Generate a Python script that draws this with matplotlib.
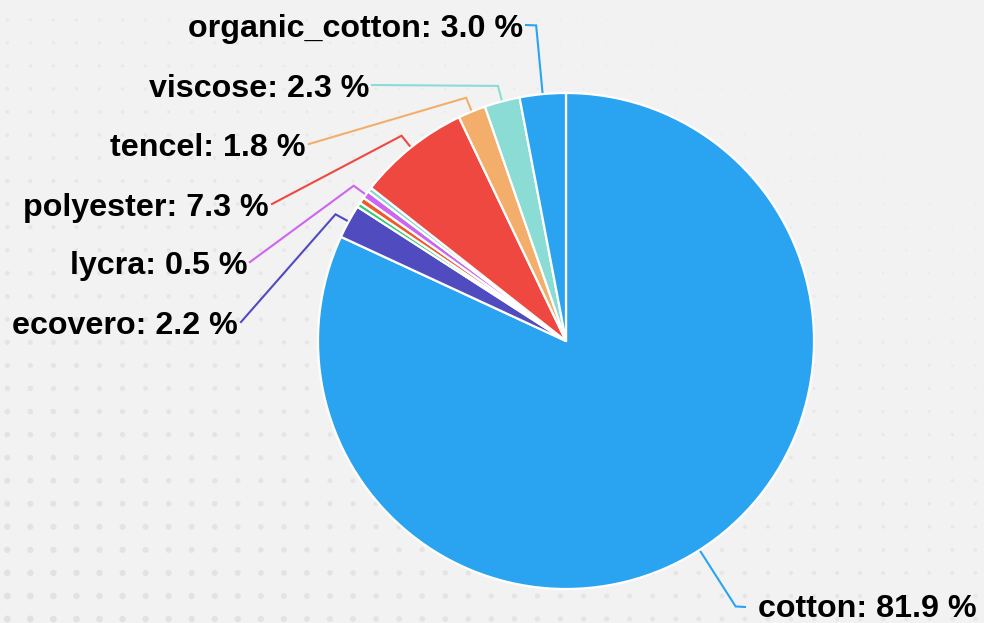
import numpy as np
import matplotlib.pyplot as plt

# Fibre composition (%), clockwise from 12 o'clock
fibres = ['cotton', 'ecovero', None, None, 'lycra', None,
          'polyester', 'tencel', 'viscose', 'organic_cotton']
shares = [81.9, 2.2, 0.3, 0.4, 0.5, 0.3, 7.3, 1.8, 2.3, 3.0]
colours = ['#2AA4F0', '#504BBE', '#2ECC71', '#F05A28', '#CC66F0',
           '#7FDCD2', '#EF4841', '#F2AE6A', '#8CDCD6', '#2AA4F0']

# label layout: line end (pixels, y down) and knee radius
label_end = {'cotton': (745, 607), 'ecovero': (241, 322), 'lycra': (250, 262),
             'polyester': (272, 204), 'tencel': (309, 144),
             'viscose': (372, 85), 'organic_cotton': (526, 25)}
knee_r = {'cotton': 315, 'ecovero': 263, 'lycra': 263, 'polyester': 263,
          'tencel': 263, 'viscose': 264, 'organic_cotton': 317}

W, H = 984, 623
cx, cy, R = 566, H - 341, 248

fig = plt.figure(figsize=(W / 100, H / 100), dpi=100)
fig.patch.set_facecolor('#F2F2F2')
ax = fig.add_axes([0, 0, 1, 1])
ax.set_facecolor('#F2F2F2')

# dotted background, bigger/darker toward bottom-left
gx, gy = np.meshgrid(7.3 + 23.05 * np.arange(43), 19.7 + 23.05 * np.arange(27))
t = np.clip(0.2 + 0.6 * gy / H + 0.45 * (1 - gx / W) - 0.3, 0, 1)
ax.scatter(gx.ravel(), H - gy.ravel(), s=(1.0 + 6.0 * t.ravel()) ** 2 * 0.55,
           c='#E1E1E1', alpha=(0.3 + 0.7 * t.ravel()), lw=0, zorder=0)

wedges, _ = ax.pie(shares, colors=colours, startangle=90, counterclock=False,
                   center=(cx, cy), radius=R,
                   wedgeprops=dict(edgecolor='white', linewidth=1.6,
                                   joinstyle='round'))
for w in wedges:
    w.set_zorder(2)

for w, name, col in zip(wedges, fibres, colours):
    if name is None:
        continue
    mid = np.deg2rad((w.theta1 + w.theta2) / 2)
    d = np.array([np.cos(mid), np.sin(mid)])
    p0 = np.array([cx, cy]) + (R - 2) * d
    p1 = np.array([cx, cy]) + knee_r[name] * d
    ex, ey = label_end[name]
    p2 = np.array([ex, H - ey])
    ax.plot([p0[0], p1[0], p2[0]], [p0[1], p1[1], p2[1]], color=col,
            lw=1.5, solid_joinstyle='miter', zorder=1)
    val = shares[fibres.index(name)]
    txt = f'{name}: {val:.1f} %'
    if p2[0] > cx:
        ax.text(ex + 13, H - ey - 10, txt, ha='left', va='baseline',
                fontsize=23.2, fontweight='bold', family='Liberation Sans')
    else:
        ax.text(ex - 3, H - ey - 12, txt, ha='right', va='baseline',
                fontsize=23.2, fontweight='bold', family='Liberation Sans')

ax.set_xlim(0, W)
ax.set_ylim(0, H)
ax.set_aspect('equal')
ax.axis('off')

fig.savefig('out.png', dpi=100, facecolor=fig.get_facecolor())
